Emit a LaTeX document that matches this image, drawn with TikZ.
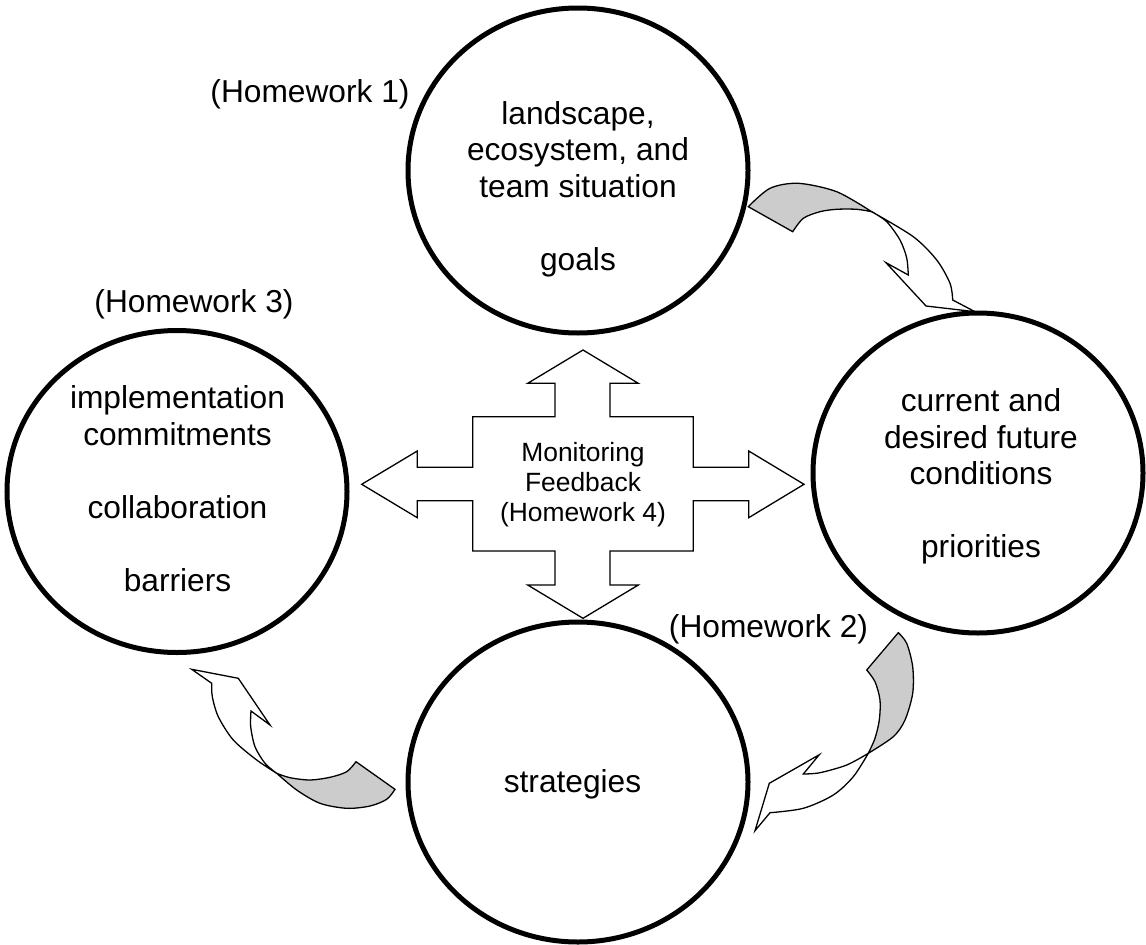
\documentclass[tikz,border=0pt]{standalone}
\usepackage{fontspec}
\setmainfont{Liberation Sans}
\usetikzlibrary{shapes.geometric}
\definecolor{ribbon}{HTML}{CCCCCC}
\begin{document}
\begin{tikzpicture}[x=1pt,y=-1pt,
  ring/.style={draw, line width=5pt, ellipse, inner sep=0pt, outer sep=0pt},
  bigtext/.style={font=\fontsize{31.7}{36.5}\selectfont, align=center, anchor=base, inner sep=0pt},
  smalltext/.style={font=\fontsize{26.4}{30.4}\selectfont, align=center, anchor=base, inner sep=0pt},
  band/.style={draw, line width=1.3pt, line join=miter},
  backband/.style={band, fill=ribbon},
  frontband/.style={band, fill=white},
  crossarrow/.style={draw, line width=1.3pt, fill=white, line join=miter}]
\useasboundingbox (0,0) rectangle (1146,945);

% circles
\node[ring, minimum width=340pt, minimum height=325pt] (ctop) at (578,170.5) {};
\node[ring, minimum width=330pt, minimum height=320pt] (cright) at (978,473) {};
\node[ring, minimum width=340pt, minimum height=322pt] (cleft) at (177,491.5) {};
\node[ring, minimum width=340pt, minimum height=320pt] (cbottom) at (578,782) {};

% curved arrow: top -> right
\filldraw[backband] plot[smooth] coordinates {(748.3,206.7)(770,188.3)(798.3,183.3)(836.7,191.7)(871.7,211.7)}
  -- plot[smooth] coordinates {(871.7,211.7)(856.7,209.3)(836.7,209.3)(820,211.7)(803.3,218.3)(792.7,231.7)} -- cycle;
\filldraw[frontband] plot[smooth] coordinates {(871.7,211.7)(913.3,236.7)(936.7,260)(950,283.3)(952.7,300)}
  -- (975,311.7) -- (926,306) -- (886,262.7) -- (908.3,275)
  -- plot[smooth] coordinates {(908.3,275)(906.7,258)(900,240)(886.7,221.7)(871.7,211.7)} -- cycle;

% curved arrow: right -> bottom
\filldraw[backband] plot[smooth] coordinates {(898.3,632.7)(906.7,643.3)(912.7,666.7)(912.7,693.3)(905,720)(893.3,736.7)(868.3,753.3)}
  -- plot[smooth] coordinates {(868.3,753.3)(875,738.3)(879.3,720)(880,700)(875,681.7)(866.7,670)} -- cycle;
\filldraw[frontband] plot[smooth] coordinates {(868.3,753.3)(846.7,765)(820,772.7)(803.3,774)}
  -- (819.3,754.7) -- (769.3,783.3) -- (755,830.7) -- (770,812.7)
  -- plot[smooth] coordinates {(770,812.7)(803.3,808.3)(833.3,795)(853.3,776.7)(868.3,753.3)} -- cycle;

% curved arrow: bottom -> left
\filldraw[backband] plot[smooth] coordinates {(356,761.7)(346.7,771.7)(330,777.3)(310,780)(290,777.7)(276.7,773.3)}
  -- plot[smooth] coordinates {(276.7,773.3)(296.7,790)(320,803.3)(346.7,808.3)(370,806)(386.7,799.3)(395,789.3)} -- cycle;
\filldraw[frontband] plot[smooth] coordinates {(276.7,773.3)(256.7,760)(233.3,740)(218.3,716.7)(212.3,696.7)(211.7,683.3)}
  -- (191.7,669.3) -- (238.3,678.3) -- (270,725) -- (251,711)
  -- plot[smooth] coordinates {(251,711)(250.7,726.7)(255,746.7)(265,763.3)(276.7,773.3)} -- cycle;

% four-way arrow
\filldraw[crossarrow] (583,350) -- (638.3,383.3) -- (610,383.3) -- (610,416.7) -- (693.3,416.7)
  -- (693.3,467.3) -- (748.7,467.3) -- (748.7,451) -- (804,484.3) -- (748.7,517.7) -- (748.7,500.7)
  -- (693.3,500.7) -- (693.3,551) -- (610,551) -- (610,585) -- (638.3,585) -- (583,618.3)
  -- (527.7,585) -- (555,585) -- (555,551) -- (472.7,551) -- (472.7,500.7) -- (417.3,500.7)
  -- (417.3,517.7) -- (361.7,484.3) -- (417.3,451) -- (417.3,467.3) -- (472.7,467.3)
  -- (472.7,416.7) -- (555,416.7) -- (555,383.3) -- (527.7,383.3) -- cycle;

% texts (anchored at the baseline of the last line)
\node[bigtext] (ttop) at (578,270.3) {landscape,\\ecosystem, and\\team situation\\[36.5pt]goals};
\node[bigtext] (tright) at (981,557.7) {current and\\desired future\\conditions\\[36.5pt]priorities};
\node[bigtext] (tleft) at (177.5,591) {implementation\\commitments\\[36.5pt]collaboration\\[36.5pt]barriers};
\node[bigtext] (tbottom) at (572.5,792) {strategies};
\node[bigtext] (hw1) at (310,102) {(Homework 1)};
\node[bigtext] (hw3) at (194,312) {(Homework 3)};
\node[bigtext] (hw2) at (768.5,637) {(Homework 2)};
\node[smalltext] (fb) at (583,521.8) {Monitoring\\Feedback\\(Homework 4)};
\end{tikzpicture}
\end{document}
